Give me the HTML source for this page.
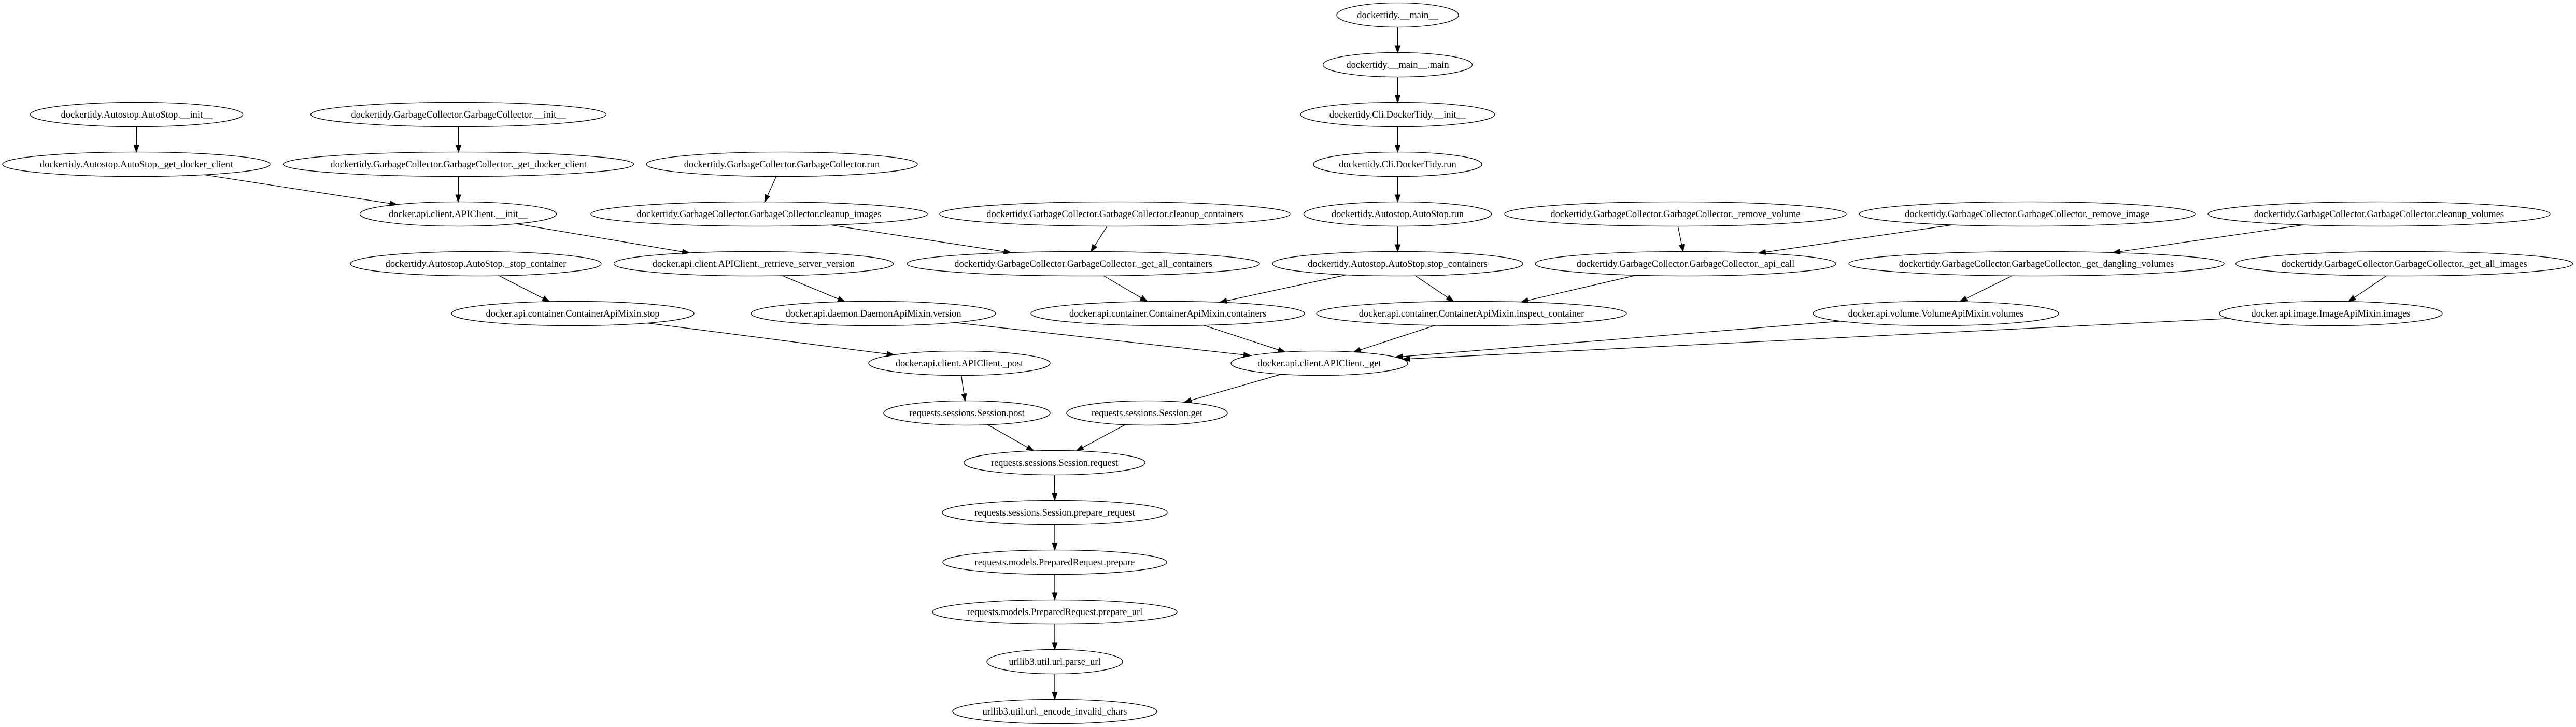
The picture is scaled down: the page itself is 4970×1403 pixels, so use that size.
<!DOCTYPE html>
<html><head><meta charset="utf-8"><style>
html,body{margin:0;padding:0;background:#fff;}
svg{display:block;}
text{font-family:"Liberation Serif","Times New Roman",serif;font-size:18.5px;text-anchor:middle;fill:#000;}
ellipse{fill:none;stroke:#000;stroke-width:1.35;}
</style></head><body>
<svg id="g" width="4970" height="1403" viewBox="0 0 4970 1403" xmlns="http://www.w3.org/2000/svg">
<rect width="4970" height="1403" fill="#fff"/>
<g id="edges"></g>
<g id="nodes">
<ellipse id="n0" cx="2696.5" cy="29" rx="117.5" ry="23.5"/><text x="2696.5" y="35">dockertidy.__main__</text>
<ellipse id="n1" cx="2696.5" cy="125" rx="144" ry="23.5"/><text x="2696.5" y="131">dockertidy.__main__.main</text>
<ellipse id="n2" cx="2696.5" cy="221" rx="187" ry="23.5"/><text x="2696.5" y="227">dockertidy.Cli.DockerTidy.__init__</text>
<ellipse id="n3" cx="2696.5" cy="317" rx="162.5" ry="23.5"/><text x="2696.5" y="323">dockertidy.Cli.DockerTidy.run</text>
<ellipse id="n4" cx="2696.5" cy="413" rx="181" ry="23.5"/><text x="2696.5" y="419">dockertidy.Autostop.AutoStop.run</text>
<ellipse id="n5" cx="2696.5" cy="509" rx="241.5" ry="23.5"/><text x="2696.5" y="515">dockertidy.Autostop.AutoStop.stop_containers</text>
<ellipse id="n6" cx="2253" cy="605" rx="264" ry="23.5"/><text x="2253" y="611">docker.api.container.ContainerApiMixin.containers</text>
<ellipse id="n7" cx="2839" cy="605" rx="299" ry="23.5"/><text x="2839" y="611">docker.api.container.ContainerApiMixin.inspect_container</text>
<ellipse id="n8" cx="2545.5" cy="701" rx="170.5" ry="23.5"/><text x="2545.5" y="707">docker.api.client.APIClient._get</text>
<ellipse id="n9" cx="2213" cy="797" rx="155" ry="23.5"/><text x="2213" y="803">requests.sessions.Session.get</text>
<ellipse id="n10" cx="1865.5" cy="797" rx="160.5" ry="23.5"/><text x="1865.5" y="803">requests.sessions.Session.post</text>
<ellipse id="n11" cx="1851" cy="701" rx="175" ry="23.5"/><text x="1851" y="707">docker.api.client.APIClient._post</text>
<ellipse id="n12" cx="2034.5" cy="893" rx="174.7" ry="23.5"/><text x="2034.5" y="899">requests.sessions.Session.request</text>
<ellipse id="n13" cx="2035" cy="989" rx="217" ry="23.5"/><text x="2035" y="995">requests.sessions.Session.prepare_request</text>
<ellipse id="n14" cx="2035" cy="1085" rx="216" ry="23.5"/><text x="2035" y="1091">requests.models.PreparedRequest.prepare</text>
<ellipse id="n15" cx="2035" cy="1181" rx="236" ry="23.5"/><text x="2035" y="1187">requests.models.PreparedRequest.prepare_url</text>
<ellipse id="n16" cx="2035" cy="1277" rx="131" ry="23.5"/><text x="2035" y="1283">urllib3.util.url.parse_url</text>
<ellipse id="n17" cx="2035" cy="1373" rx="197" ry="23.5"/><text x="2035" y="1379">urllib3.util.url._encode_invalid_chars</text>
<ellipse id="n18" cx="263.6" cy="221" rx="205" ry="23.5"/><text x="263.6" y="227">dockertidy.Autostop.AutoStop.__init__</text>
<ellipse id="n19" cx="263" cy="317" rx="258" ry="23.5"/><text x="263" y="323">dockertidy.Autostop.AutoStop._get_docker_client</text>
<ellipse id="n20" cx="884.6" cy="221" rx="285" ry="23.5"/><text x="884.6" y="227">dockertidy.GarbageCollector.GarbageCollector.__init__</text>
<ellipse id="n21" cx="884.6" cy="317" rx="338" ry="23.5"/><text x="884.6" y="323">dockertidy.GarbageCollector.GarbageCollector._get_docker_client</text>
<ellipse id="n22" cx="884" cy="413" rx="189.5" ry="23.5"/><text x="884" y="419">docker.api.client.APIClient.__init__</text>
<ellipse id="n23" cx="1454" cy="509" rx="269.5" ry="23.5"/><text x="1454" y="515">docker.api.client.APIClient._retrieve_server_version</text>
<ellipse id="n24" cx="1685" cy="605" rx="236" ry="23.5"/><text x="1685" y="611">docker.api.daemon.DaemonApiMixin.version</text>
<ellipse id="n25" cx="918" cy="509" rx="242" ry="23.5"/><text x="918" y="515">dockertidy.Autostop.AutoStop._stop_container</text>
<ellipse id="n26" cx="1105" cy="605" rx="234" ry="23.5"/><text x="1105" y="611">docker.api.container.ContainerApiMixin.stop</text>
<ellipse id="n27" cx="1508.5" cy="317" rx="261.5" ry="23.5"/><text x="1508.5" y="323">dockertidy.GarbageCollector.GarbageCollector.run</text>
<ellipse id="n28" cx="1464.5" cy="413" rx="324.5" ry="23.5"/><text x="1464.5" y="419">dockertidy.GarbageCollector.GarbageCollector.cleanup_images</text>
<ellipse id="n29" cx="2090" cy="509" rx="340" ry="23.5"/><text x="2090" y="515">dockertidy.GarbageCollector.GarbageCollector._get_all_containers</text>
<ellipse id="n30" cx="2151" cy="413" rx="338" ry="23.5"/><text x="2151" y="419">dockertidy.GarbageCollector.GarbageCollector.cleanup_containers</text>
<ellipse id="n31" cx="3232.5" cy="413" rx="329.5" ry="23.5"/><text x="3232.5" y="419">dockertidy.GarbageCollector.GarbageCollector._remove_volume</text>
<ellipse id="n32" cx="3911" cy="413" rx="324" ry="23.5"/><text x="3911" y="419">dockertidy.GarbageCollector.GarbageCollector._remove_image</text>
<ellipse id="n33" cx="4590" cy="413" rx="330" ry="23.5"/><text x="4590" y="419">dockertidy.GarbageCollector.GarbageCollector.cleanup_volumes</text>
<ellipse id="n34" cx="3252" cy="509" rx="290" ry="23.5"/><text x="3252" y="515">dockertidy.GarbageCollector.GarbageCollector._api_call</text>
<ellipse id="n35" cx="3929" cy="509" rx="362" ry="23.5"/><text x="3929" y="515">dockertidy.GarbageCollector.GarbageCollector._get_dangling_volumes</text>
<ellipse id="n36" cx="4638.6" cy="509" rx="325" ry="23.5"/><text x="4638.6" y="515">dockertidy.GarbageCollector.GarbageCollector._get_all_images</text>
<ellipse id="n37" cx="3735" cy="605" rx="237" ry="23.5"/><text x="3735" y="611">docker.api.volume.VolumeApiMixin.volumes</text>
<ellipse id="n38" cx="4497" cy="605" rx="215" ry="23.5"/><text x="4497" y="611">docker.api.image.ImageApiMixin.images</text>
</g>
</svg>
<script>
(function(){
var E=[[0,1],[1,2],[2,3],[3,4],[4,5],[5,6],[5,7],[6,8],[7,8],[8,9],[9,12],[10,12],[11,10],[12,13],[13,14],[14,15],[15,16],[16,17],
[18,19],[19,22],[20,21],[21,22],[22,23],[23,24],[24,8],[25,26],[26,11],[27,28],[28,29],[30,29],[29,6],[31,34],[32,34],[34,7],
[33,35],[35,37],[37,8],[36,38],[38,8]];
var NS="http://www.w3.org/2000/svg",g=document.getElementById("edges");
function n(i){var e=document.getElementById("n"+i);return{x:+e.getAttribute("cx"),y:+e.getAttribute("cy"),rx:+e.getAttribute("rx"),ry:+e.getAttribute("ry")};}
E.forEach(function(p){
 var a=n(p[0]),b=n(p[1]),dx=b.x-a.x,dy=b.y-a.y;
 var ta=1/Math.sqrt(Math.pow(dx/a.rx,2)+Math.pow(dy/a.ry,2));
 var tb=1/Math.sqrt(Math.pow(dx/b.rx,2)+Math.pow(dy/b.ry,2));
 var sx=a.x+dx*ta,sy=a.y+dy*ta,ex=b.x-dx*tb,ey=b.y-dy*tb;
 var L=Math.hypot(ex-sx,ey-sy),ux=(ex-sx)/L,uy=(ey-sy)/L,al=13.3,aw=4.7;
 var bx=ex-ux*al,by=ey-uy*al;
 var l=document.createElementNS(NS,"line");
 l.setAttribute("x1",sx);l.setAttribute("y1",sy);l.setAttribute("x2",bx);l.setAttribute("y2",by);
 l.setAttribute("stroke","#000");l.setAttribute("stroke-width","1.35");g.appendChild(l);
 var pg=document.createElementNS(NS,"polygon");
 pg.setAttribute("points",ex+","+ey+" "+(bx-uy*aw)+","+(by+ux*aw)+" "+(bx+uy*aw)+","+(by-ux*aw));
 pg.setAttribute("fill","#000");pg.setAttribute("stroke","#000");pg.setAttribute("stroke-width","1.35");g.appendChild(pg);
});
})();
</script>
</body></html>
